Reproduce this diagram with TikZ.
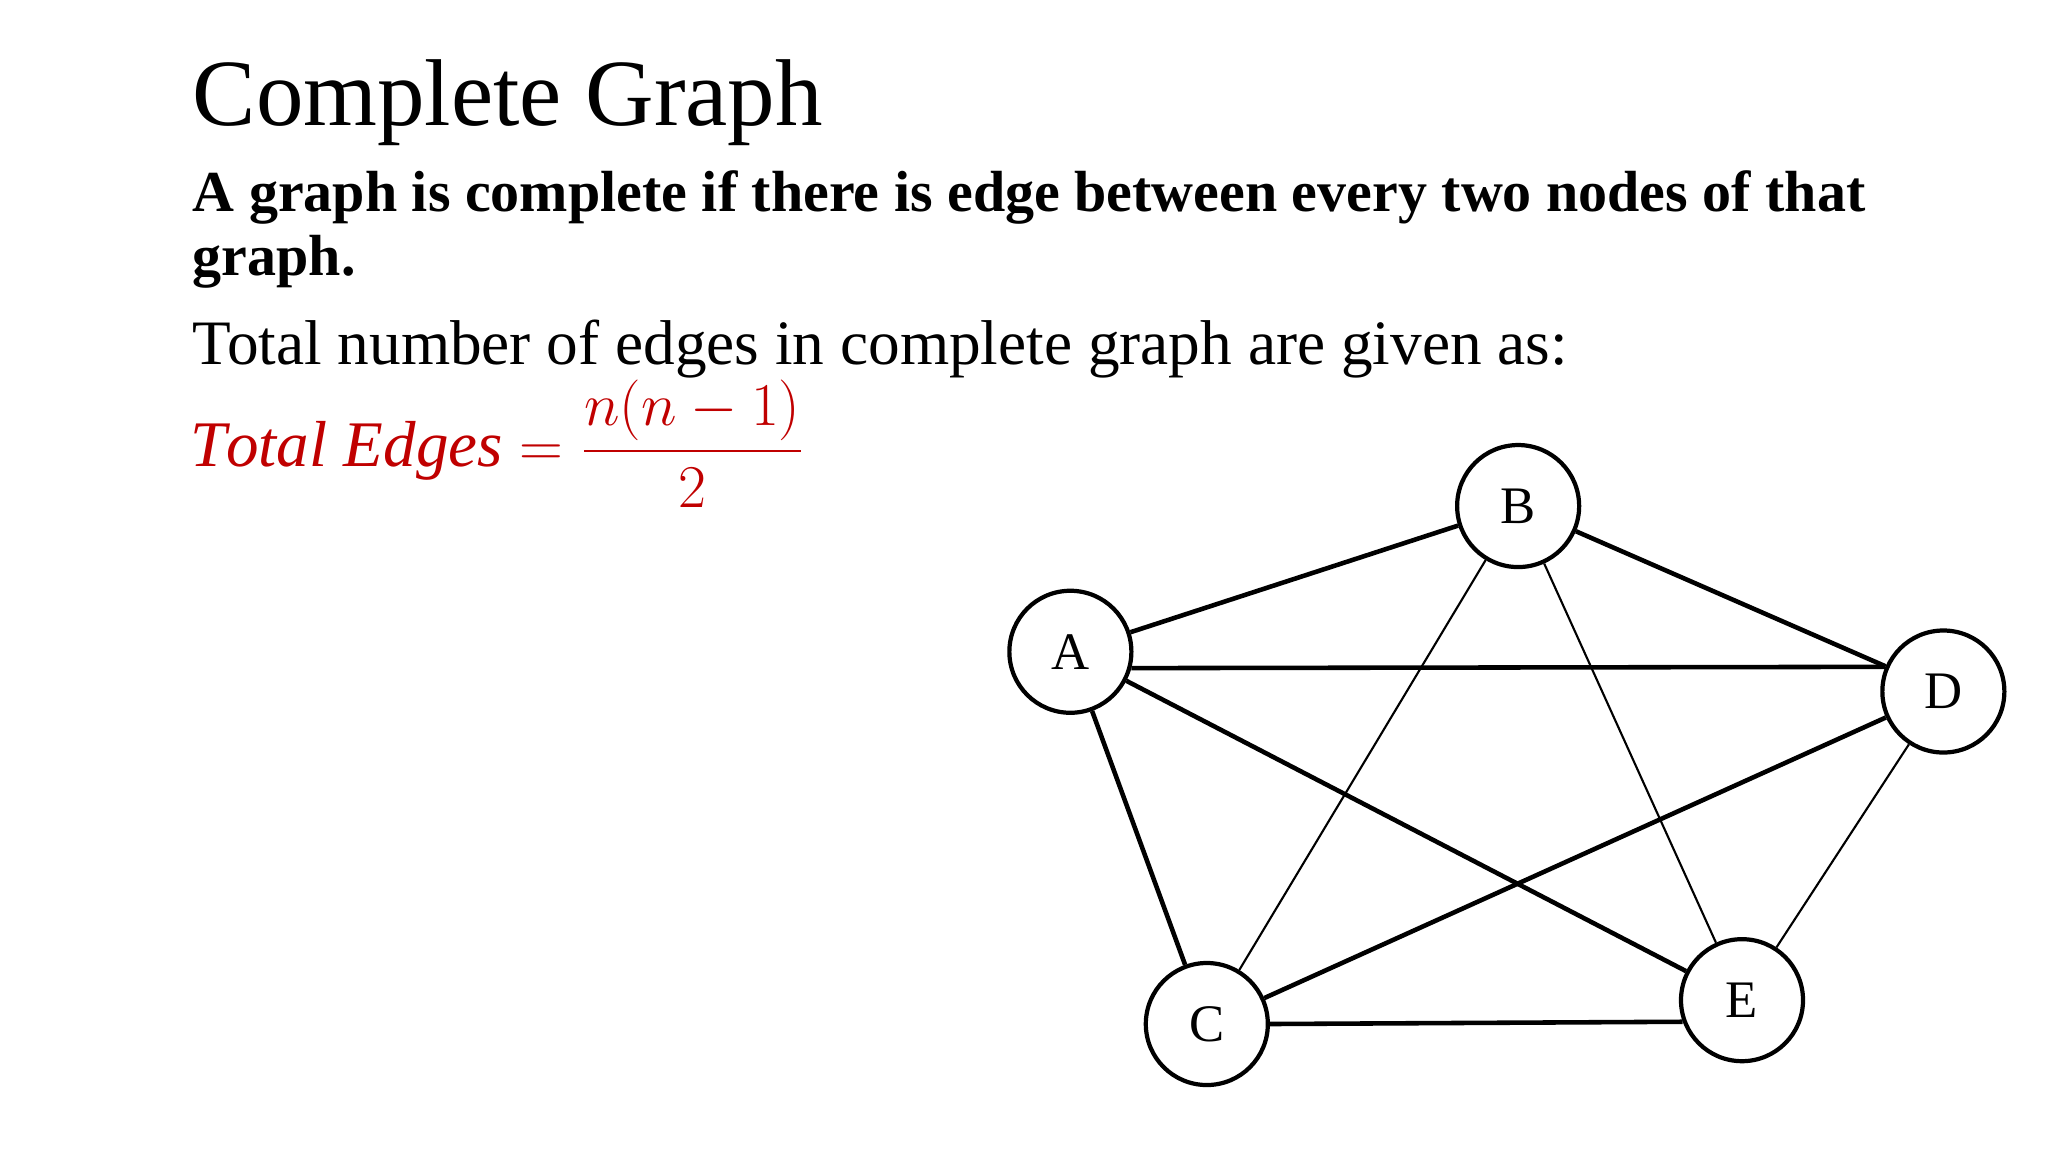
\documentclass[tikz,border=0pt]{standalone}
\usepackage{fontspec}
\setmainfont{Liberation Serif}
\definecolor{tred}{HTML}{C00000}
\begin{document}
\begin{tikzpicture}[x=0.013247cm,y=-0.013247cm,
  vtx/.style={circle,draw,line width=1.2pt,minimum size=1.22cm,inner sep=0pt,font=\fontsize{15}{15}\selectfont},
  thick edge/.style={line width=1.3pt},
  thin edge/.style={line width=0.6pt}]
\useasboundingbox (0,0) rectangle (1546,870);
\node[anchor=base west,inner sep=0pt,font=\fontsize{27}{32}\selectfont] (title) at (145,95) {Complete Graph};
\node[anchor=base west,inner sep=0pt,font=\bfseries\fontsize{16.5}{17}\selectfont] (l1) at (145,160) {A graph is complete if there is edge between every two nodes of that};
\node[anchor=base west,inner sep=0pt,font=\bfseries\fontsize{16.5}{17}\selectfont] (l2) at (145,208) {graph.};
\node[anchor=base west,inner sep=0pt,font=\fontsize{18}{20}\selectfont] (l3) at (145,275) {Total number of edges in complete graph are given as:};
\node[anchor=west,inner sep=0pt,text=tred,font=\fontsize{18.5}{20}\selectfont] (f) at (143,335) {$\displaystyle \mathit{Total\ Edges}=\frac{n(n-1)}{2}$};
\node[vtx] (A) at (808,492) {A};
\node[vtx] (B) at (1146,382) {B};
\node[vtx] (C) at (911,773) {C};
\node[vtx] (D) at (1467,522) {D};
\node[vtx] (E) at (1315,755) {E};
\draw[thick edge] (A) -- (B);
\draw[thick edge] (A.-15) -- (D.157);
\draw[thick edge] (A) -- (E);
\draw[thick edge] (A) -- (C);
\draw[thick edge] (B) -- (D);
\draw[thick edge] (C) -- (D);
\draw[thick edge] (C.east) -- (E.-160);
\draw[thin edge] (B) -- (C);
\draw[thin edge] (B) -- (E);
\draw[thin edge] (D) -- (E);
\end{tikzpicture}
\end{document}
